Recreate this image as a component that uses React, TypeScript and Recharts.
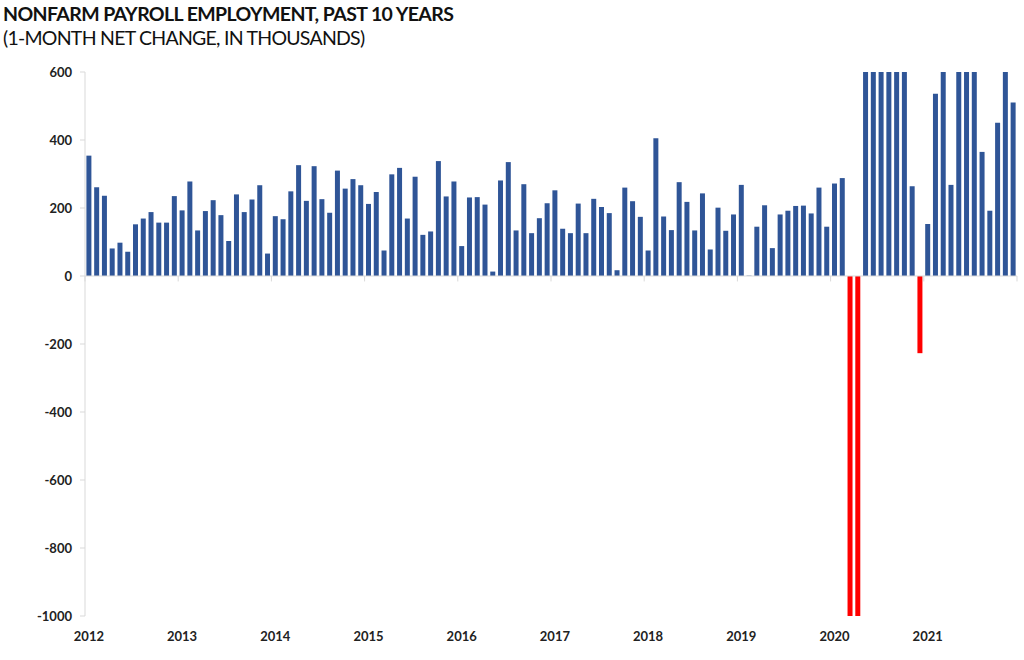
import React from "react";
import { BarChart, Bar, XAxis, YAxis, Cell, ReferenceLine } from "recharts";

const years = [2012, 2013, 2014, 2015, 2016, 2017, 2018, 2019, 2020, 2021];
const months = ["01", "02", "03", "04", "05", "06", "07", "08", "09", "10", "11", "12"];

const v2012 = [354, 261, 236, 81, 98, 71, 152, 169, 188, 157, 157, 235];
const v2013 = [193, 278, 134, 191, 223, 179, 103, 240, 188, 225, 267, 66];
const v2014 = [176, 167, 249, 326, 221, 323, 226, 186, 310, 257, 285, 267];
const v2015 = [212, 247, 75, 299, 318, 169, 292, 121, 131, 338, 234, 278];
const v2016 = [88, 231, 232, 210, 13, 281, 335, 134, 270, 126, 170, 214];
const v2017 = [252, 139, 126, 213, 126, 227, 203, 185, 17, 260, 220, 174];
const v2018 = [75, 405, 175, 135, 276, 218, 134, 243, 78, 201, 133, 181];
const v2019 = [268, 1, 145, 208, 82, 181, 192, 206, 207, 184, 260, 145];
const v2020 = [272, 288, -1683, -20493, 2725, 4781, 1726, 1583, 716, 680, 264, -227];
const v2021 = [153, 536, 785, 268, 614, 962, 1091, 365, 192, 451, 647, 510];

const yearValues = [v2012, v2013, v2014, v2015, v2016, v2017, v2018, v2019, v2020, v2021];
const yTicks = [-1000, -800, -600, -400, -200, 0, 200, 400, 600];

const data = years.flatMap((y, yi) =>
  months.map((m, mi) => ({ month: `${y}-${m}`, value: yearValues[yi][mi] }))
);
const yearStarts = years.map((y) => `${y}-01`);
const lastMonth = data[data.length - 1].month;

const BLUE = "#2F5597";
const RED = "#FF0000";
const GRID = "#D9D9D9";
const FONT = "Lato, 'Open Sans', sans-serif";

export default function App() {
  return (
    <div style={{ position: "absolute", left: 0, top: 0, width: 1024, height: 660, background: "#fff", fontFamily: FONT }}>
      <div style={{ position: "absolute", left: 3, top: 2, fontSize: 19.5, fontWeight: 700, color: "#111", whiteSpace: "nowrap", lineHeight: "24px", letterSpacing: "-0.6px" }}>
        NONFARM PAYROLL EMPLOYMENT, PAST 10 YEARS
      </div>
      <div style={{ position: "absolute", left: 3, top: 26, fontSize: 19.5, fontWeight: 400, color: "#111", whiteSpace: "nowrap", lineHeight: "24px", letterSpacing: "-0.75px" }}>
        (1-MONTH NET CHANGE, IN THOUSANDS)
      </div>
      <BarChart
        width={1024}
        height={660}
        data={data}
        margin={{ top: 72, right: 7, bottom: 0, left: 0 }}
        barCategoryGap="18%"
        style={{ position: "absolute", left: 0, top: 0 }}
      >
        <XAxis
          dataKey="month"
          ticks={yearStarts}
          interval={0}
          axisLine={false}
          tickLine={false}
          tickSize={0}
          tickMargin={16}
          height={44}
          tickFormatter={(v: string) => v.slice(0, 4)}
          tick={{ fill: "#222", fontSize: 13, fontWeight: 700, fontFamily: FONT }}
        />
        <YAxis
          domain={[-1000, 600]}
          ticks={yTicks}
          allowDataOverflow
          width={85}
          interval={0}
          axisLine={{ stroke: GRID }}
          tickLine={{ stroke: GRID }}
          tickSize={5}
          tickMargin={8}
          tick={{ fill: "#222", fontSize: 13, fontWeight: 700, fontFamily: FONT }}
        />
        <ReferenceLine y={0} stroke={GRID} />
        {yearStarts.map((m) => (
          <ReferenceLine
            key={m}
            segment={[{ x: m, y: 0 }, { x: m, y: -16 }]}
            position="start"
            stroke={GRID}
          />
        ))}
        <ReferenceLine segment={[{ x: lastMonth, y: 0 }, { x: lastMonth, y: -16 }]} position="end" stroke={GRID} />
        <Bar dataKey="value" isAnimationActive={false}>
          {data.map((d) => (
            <Cell key={d.month} fill={d.value < 0 ? RED : BLUE} />
          ))}
        </Bar>
      </BarChart>
    </div>
  );
}
